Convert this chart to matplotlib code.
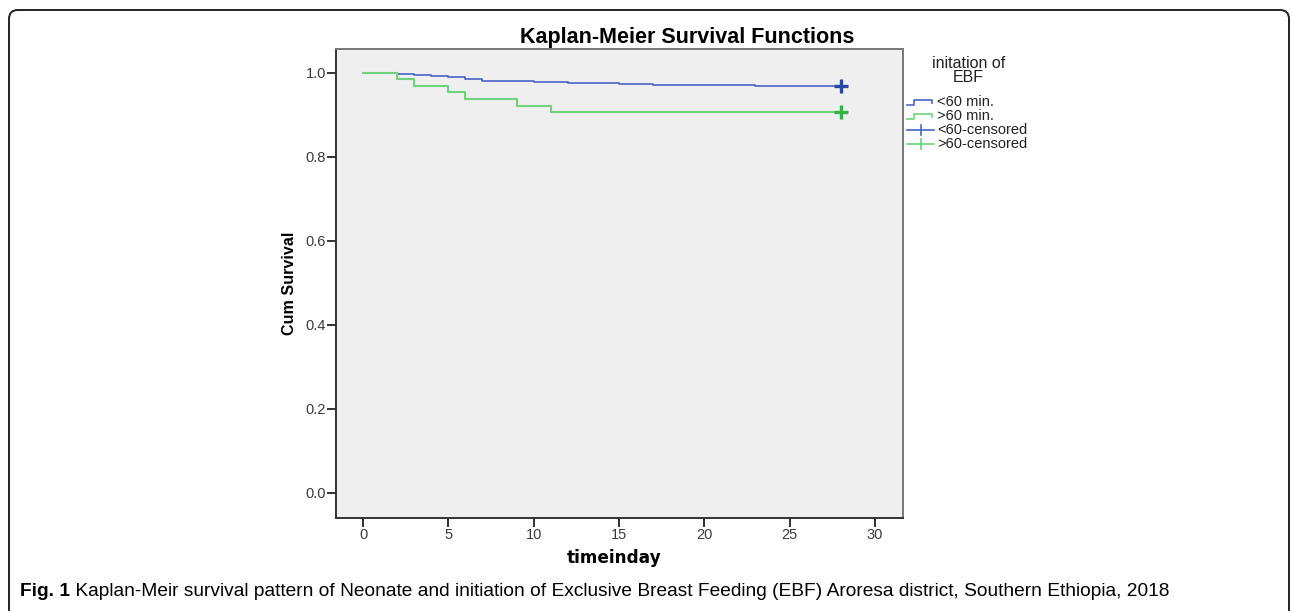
import matplotlib
matplotlib.use("Agg")
import matplotlib.pyplot as plt
from matplotlib.path import Path
from matplotlib.patches import PathPatch
from matplotlib.lines import Line2D

# ---- data ----
blue_times = [0, 1, 2, 3, 4, 5, 6, 7, 10, 12, 15, 17, 23, 28]
blue_surv = [1.0, 0.999, 0.997, 0.995, 0.992, 0.989, 0.985, 0.981, 0.978, 0.976, 0.973, 0.970, 0.967, 0.967]
green_times = [0, 2, 3, 5, 6, 9, 11, 28]
green_surv = [1.0, 0.985, 0.969, 0.953, 0.937, 0.921, 0.906, 0.906]
censor_time = 28
x_ticks = [0, 5, 10, 15, 20, 25, 30]
y_ticks = [0.0, 0.2, 0.4, 0.6, 0.8, 1.0]
legend_title = ["initation of", "EBF"]
legend_labels = ["<60 min.", ">60 min.", "<60-censored", ">60-censored"]
title = "Kaplan-Meier Survival Functions"
xlabel = "timeinday"
ylabel = "Cum Survival"
caption_bold = "Fig. 1"
caption_rest = " Kaplan-Meir survival pattern of Neonate and initiation of Exclusive Breast Feeding (EBF) Aroresa district, Southern Ethiopia, 2018"

BLUE = "#4a63c4"
BLUE_D = "#2a45a8"
GREEN = "#6fd37c"
GREEN_D = "#2fb544"

W, H = 1292, 611
plt.rcParams['font.family'] = ['Liberation Sans', 'DejaVu Sans']
fig = plt.figure(figsize=(W / 100, H / 100), dpi=100)
fig.patch.set_facecolor("white")


def fx(px):
    return px / W


def fy(py):
    return 1 - py / H


AX_L, AX_R, AX_T, AX_B = 336, 903, 49, 518
ax = fig.add_axes([fx(AX_L), fy(AX_B), fx(AX_R) - fx(AX_L), fy(AX_T) - fy(AX_B)])
ax.set_facecolor("#efefef")
ax.step(blue_times, blue_surv, where="post", color=BLUE, lw=1.2, zorder=3)
ax.step(green_times, green_surv, where="post", color=GREEN, lw=1.5, zorder=4)
ax.plot([censor_time], [blue_surv[-1]], marker="+", ms=10, mew=2.4, color=BLUE_D, zorder=5)
ax.plot([censor_time], [green_surv[-1]], marker="+", ms=10, mew=2.4, color=GREEN_D, zorder=5)

ax.set_xlim(-1.585, 31.65)
ax.set_ylim(-0.06, 1.056)
ax.set_xticks(x_ticks)
ax.set_yticks(y_ticks)
ax.set_xticklabels([str(t) for t in x_ticks])
ax.set_yticklabels([f"{t:.1f}" for t in y_ticks])
ax.tick_params(direction="out", length=6.5, width=1.3, color="#222222",
               labelsize=10.5, labelcolor="#3a3a3a", pad=0.8)
for s in ax.spines.values():
    s.set_color("#333333")
    s.set_linewidth(1.4)
ax.spines["top"].set_color("#777777")
ax.spines["right"].set_color("#777777")

ax.set_xlabel(xlabel, fontsize=12.2, fontweight="bold", family=["DejaVu Sans"], va="center")
ax.xaxis.set_label_coords((614 - AX_L) / (AX_R - AX_L), (fy(558) - fy(AX_B)) / (fy(AX_T) - fy(AX_B)))
ax.set_ylabel(ylabel, fontsize=11.6, fontweight="bold", va="center")
ax.yaxis.set_label_coords((289 - AX_L) / (AX_R - AX_L), 0.5)

fig.text(fx(687), fy(38), title, ha="center", va="center", fontsize=15.5, fontweight="bold")

# legend (drawn manually to mimic SPSS glyphs)
for line, yy in zip(legend_title, [63.5, 77]):
    fig.text(fx(968.5), fy(yy), line, ha="center", va="center", fontsize=11.5, color="#222222")
rows = [101.7, 115.5, 129.5, 144]
for i, (lab, row) in enumerate(zip(legend_labels, rows)):
    col = BLUE if i % 2 == 0 else GREEN
    if i < 2:
        xs = [907, 914, 914, 932, 932]
        ys = [row + 3, row + 3, row - 2, row - 2, row + 1]
        fig.add_artist(Line2D([fx(v) for v in xs], [fy(v) for v in ys], color=col, lw=1.2,
                              transform=fig.transFigure))
    else:
        fig.add_artist(Line2D([fx(907), fx(934)], [fy(row), fy(row)], color=col, lw=1.2,
                              transform=fig.transFigure))
        fig.add_artist(Line2D([fx(920.5), fx(920.5)], [fy(row - 5), fy(row + 5)], color=col, lw=1.2,
                              transform=fig.transFigure))
    fig.text(fx(937), fy(row), lab, ha="left", va="center", fontsize=10.5, color="#222222")

# outer rounded border (open at bottom)
r = 9
L, T, R, B = 9, 10, 1289, 611
verts = [(L, B), (L, T + r), (L, T), (L + r, T), (R - r, T), (R, T), (R, T + r), (R, B)]
codes = [Path.MOVETO, Path.LINETO, Path.CURVE3, Path.CURVE3, Path.LINETO, Path.CURVE3, Path.CURVE3, Path.LINETO]
path = Path([(fx(x), fy(y)) for x, y in verts], codes)
fig.add_artist(PathPatch(path, facecolor="none", edgecolor="#222222", lw=1.4,
                         transform=fig.transFigure))

# caption, sized to span the same width as in the reference
cap_x0, cap_x1, cap_y = 20, 1165, 591
fs = 13.0
renderer = fig.canvas.get_renderer()
for _ in range(3):
    t1 = fig.text(fx(cap_x0), fy(cap_y), caption_bold, ha="left", va="center", fontsize=fs,
                  fontweight="bold")
    t2 = fig.text(fx(cap_x0), fy(cap_y), caption_rest, ha="left", va="center", fontsize=fs)
    w = t1.get_window_extent(renderer).width + t2.get_window_extent(renderer).width
    t1.remove()
    t2.remove()
    fs = fs * (cap_x1 - cap_x0) / w

t1 = fig.text(fx(cap_x0), fy(cap_y), caption_bold, ha="left", va="center", fontsize=fs,
              fontweight="bold")
bb = t1.get_window_extent(renderer)
fig.text(bb.x1 / W, fy(cap_y), caption_rest, ha="left", va="center", fontsize=fs)

fig.savefig("out.png", dpi=100)
